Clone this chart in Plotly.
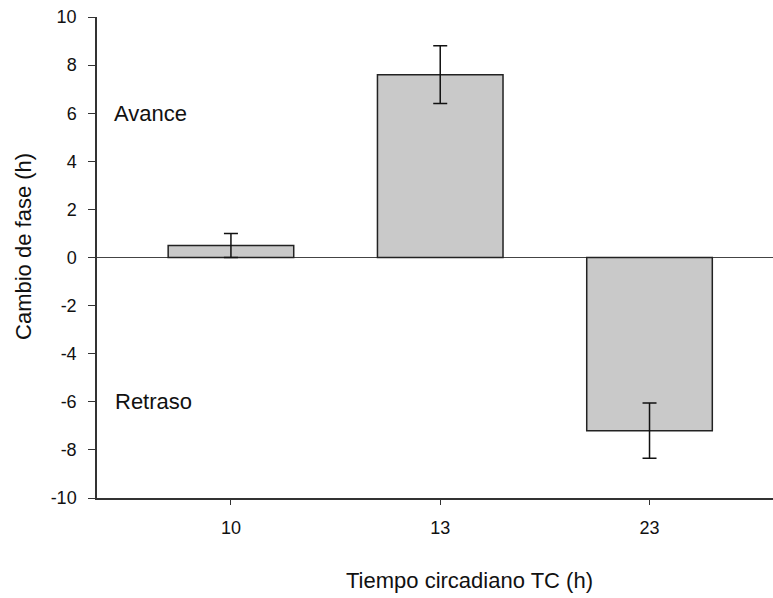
import plotly.graph_objects as go

categories = ["10", "13", "23"]
values = [0.5, 7.6, -7.2]
errors = [0.5, 1.2, 1.15]
y_ticks = [-10, -8, -6, -4, -2, 0, 2, 4, 6, 8, 10]
y_tick_labels = ["-10", "-8", "-6", "-4", "-2", "0", "2", "4", "6", "8", "10"]

fig = go.Figure()
fig.add_trace(go.Bar(
    x=categories, y=values, width=0.6,
    marker=dict(color="#c9c9c9", line=dict(color="#222222", width=1.5)),
    error_y=dict(type="data", array=errors, visible=True, color="#111111", thickness=1.5, width=7),
    showlegend=False,
))

font = "Liberation Sans, Arial, sans-serif"
fig.update_layout(
    width=773, height=598,
    margin=dict(l=97, r=0, t=17, b=100),
    plot_bgcolor="white", paper_bgcolor="white",
    font=dict(family=font, size=18, color="#111111"),
    xaxis=dict(
        type="category", range=[-0.64, 2.59],
        showline=True, linecolor="#333333", linewidth=1.5,
        ticks="outside", ticklen=5, tickcolor="#333333",
        showgrid=False, zeroline=False,
        tickfont=dict(size=18), ticklabelstandoff=8,
    ),
    yaxis=dict(
        range=[-10, 10], tickvals=y_ticks, ticktext=y_tick_labels,
        showline=True, linecolor="#333333", linewidth=1.5,
        ticks="outside", ticklen=7, tickcolor="#333333",
        showgrid=False, zeroline=True, zerolinecolor="#444444", zerolinewidth=1.2,
        tickfont=dict(size=18), ticklabelstandoff=8, automargin=False,
    ),
    annotations=[
        dict(text="Avance", x=(112 - 97) / 676, y=6, xref="x domain", yref="y", showarrow=False,
             xanchor="left", yanchor="middle", font=dict(size=22)),
        dict(text="Retraso", x=(113 - 97) / 676, y=-6, xref="x domain", yref="y", showarrow=False,
             xanchor="left", yanchor="middle", font=dict(size=22)),
        dict(text="Tiempo circadiano TC (h)", x=0.551, y=-0.172, xref="paper", yref="paper",
             showarrow=False, font=dict(size=22), xanchor="center", yanchor="middle"),
        dict(text="Cambio de fase (h)", x=-0.108, y=0.524, xref="paper", yref="paper",
             showarrow=False, font=dict(size=22), textangle=-90, xanchor="center", yanchor="middle"),
    ],
)

fig.write_html("out.html", config={"displayModeBar": False},
               post_script="document.body.style.margin='0';")
